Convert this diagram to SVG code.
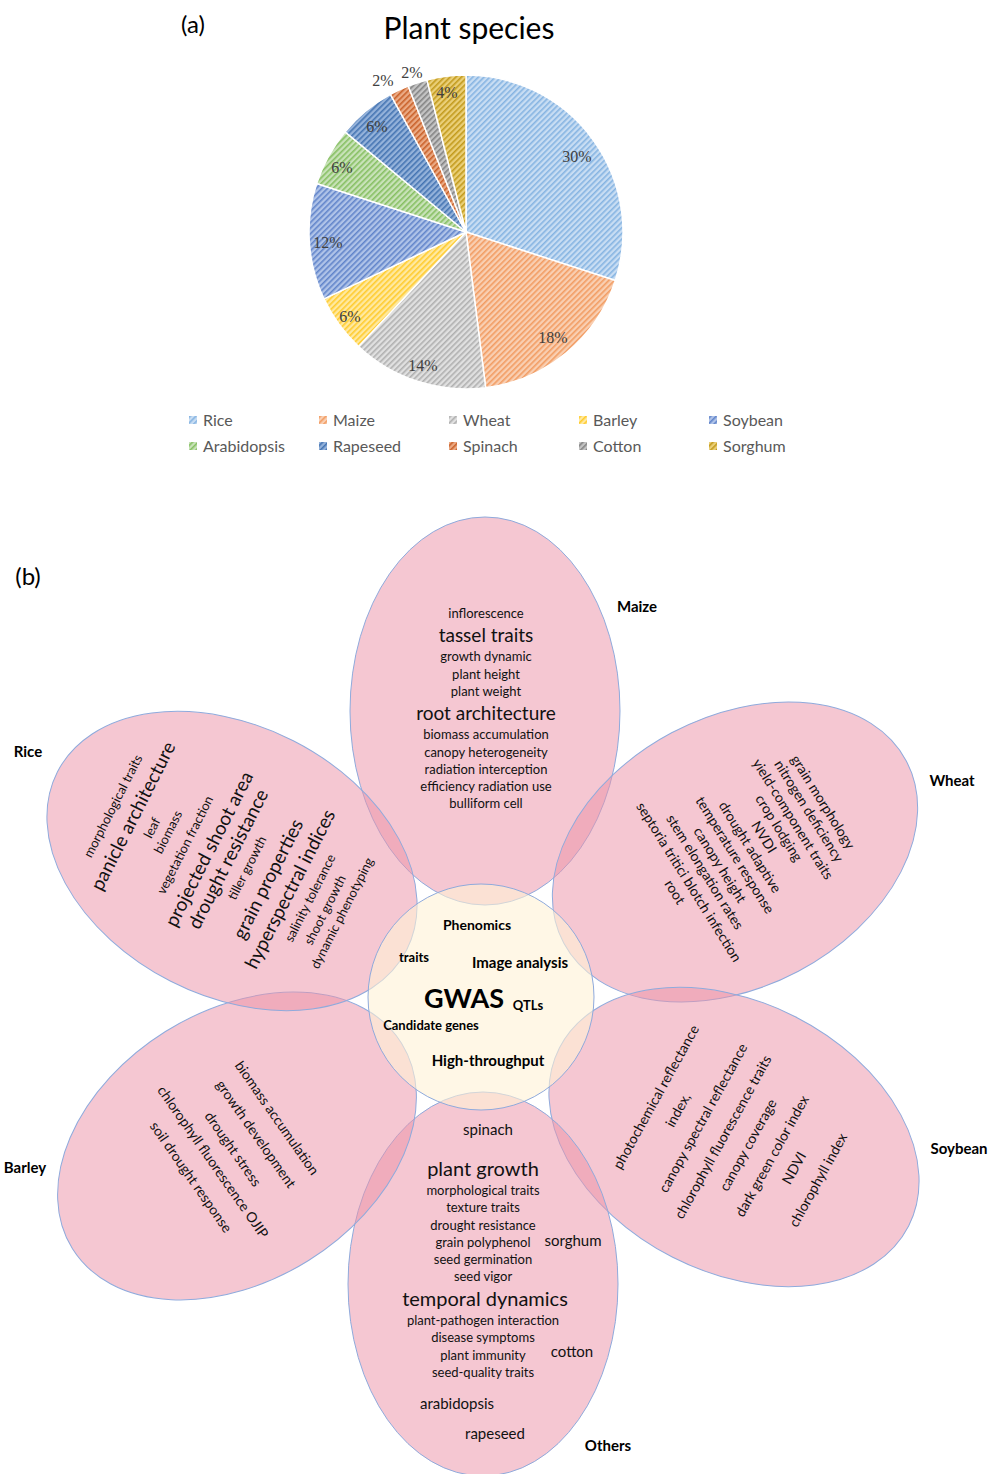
<svg xmlns="http://www.w3.org/2000/svg" width="990" height="1474" viewBox="0 0 990 1474">
<defs>
<style>
.t{font-family:Lato,"Open Sans","Liberation Sans",sans-serif;fill:#111;text-anchor:middle}
.pc{font-family:"Liberation Serif",serif;font-size:16px;fill:#404040;text-anchor:middle}
.lg{font-family:Lato,"Liberation Sans",sans-serif;font-size:16px;fill:#595959}
.b{font-weight:700;fill:#000}
.s12{font-size:12px}.s13{font-size:13px}.s14{font-size:14px}.s15{font-size:15px}.s19{font-size:19px}.s20{font-size:20px}
.petal{fill:#EB94A8;fill-opacity:0.52;stroke:#8FAADC;stroke-width:1}
.core{fill:#FFF1D6;fill-opacity:0.6;stroke:#8FAADC;stroke-width:1}
.sl{stroke:#fff;stroke-width:1.5}
</style>
<pattern id="pRice" width="4" height="4" patternUnits="userSpaceOnUse" patternTransform="rotate(45)"><rect width="4" height="4" fill="#C8DDF3"/><rect width="1.6" height="4" fill="#86B4E2"/></pattern>
<pattern id="pMaize" width="4" height="4" patternUnits="userSpaceOnUse" patternTransform="rotate(45)"><rect width="4" height="4" fill="#F9CFB2"/><rect width="1.6" height="4" fill="#F29C62"/></pattern>
<pattern id="pWheat" width="4" height="4" patternUnits="userSpaceOnUse" patternTransform="rotate(45)"><rect width="4" height="4" fill="#E0E0E0"/><rect width="1.6" height="4" fill="#B0B0B0"/></pattern>
<pattern id="pBarley" width="4" height="4" patternUnits="userSpaceOnUse" patternTransform="rotate(45)"><rect width="4" height="4" fill="#FFE9A0"/><rect width="1.6" height="4" fill="#FFCB2E"/></pattern>
<pattern id="pSoy" width="4" height="4" patternUnits="userSpaceOnUse" patternTransform="rotate(45)"><rect width="4" height="4" fill="#AFC3E8"/><rect width="1.6" height="4" fill="#6285CA"/></pattern>
<pattern id="pArab" width="4" height="4" patternUnits="userSpaceOnUse" patternTransform="rotate(45)"><rect width="4" height="4" fill="#C8E2B8"/><rect width="1.6" height="4" fill="#86BF62"/></pattern>
<pattern id="pRape" width="4" height="4" patternUnits="userSpaceOnUse" patternTransform="rotate(45)"><rect width="4" height="4" fill="#94B2DA"/><rect width="1.6" height="4" fill="#4574B2"/></pattern>
<pattern id="pSpin" width="4" height="4" patternUnits="userSpaceOnUse" patternTransform="rotate(45)"><rect width="4" height="4" fill="#EBAA84"/><rect width="1.6" height="4" fill="#C9612A"/></pattern>
<pattern id="pCot" width="4" height="4" patternUnits="userSpaceOnUse" patternTransform="rotate(45)"><rect width="4" height="4" fill="#C4C4C4"/><rect width="1.6" height="4" fill="#838383"/></pattern>
<pattern id="pSorg" width="4" height="4" patternUnits="userSpaceOnUse" patternTransform="rotate(45)"><rect width="4" height="4" fill="#EACF78"/><rect width="1.6" height="4" fill="#C29A1C"/></pattern>
</defs>
<rect width="990" height="1474" fill="#fff"/>

<!-- (a) pie chart -->
<g id="panel-a">
<text x="193" y="33" class="t" style="font-size:24px;fill:#000">(a)</text>
<text x="469" y="39" class="t" style="font-size:30px;fill:#000">Plant species</text>
<g id="pie">
<path class="sl" fill="url(#pRice)" d="M466,232 L466,75 A157,157 0 0 1 615.32,280.52 Z"/>
<path class="sl" fill="url(#pMaize)" d="M466,232 L615.32,280.52 A157,157 0 0 1 485.68,387.76 Z"/>
<path class="sl" fill="url(#pWheat)" d="M466,232 L485.68,387.76 A157,157 0 0 1 358.53,346.45 Z"/>
<path class="sl" fill="url(#pBarley)" d="M466,232 L358.53,346.45 A157,157 0 0 1 323.94,298.85 Z"/>
<path class="sl" fill="url(#pSoy)" d="M466,232 L323.94,298.85 A157,157 0 0 1 316.68,183.48 Z"/>
<path class="sl" fill="url(#pArab)" d="M466,232 L316.68,183.48 A157,157 0 0 1 345.03,131.93 Z"/>
<path class="sl" fill="url(#pRape)" d="M466,232 L345.03,131.93 A157,157 0 0 1 390.37,94.42 Z"/>
<path class="sl" fill="url(#pSpin)" d="M466,232 L390.37,94.42 A157,157 0 0 1 408.20,86.02 Z"/>
<path class="sl" fill="url(#pCot)" d="M466,232 L408.20,86.02 A157,157 0 0 1 426.96,79.93 Z"/>
<path class="sl" fill="url(#pSorg)" d="M466,232 L426.96,79.93 A157,157 0 0 1 466,75 Z"/>
</g>
<g id="pie-labels">
<text x="577" y="162" class="pc">30%</text>
<text x="553" y="343" class="pc">18%</text>
<text x="423" y="371" class="pc">14%</text>
<text x="350" y="322" class="pc">6%</text>
<text x="328" y="248" class="pc">12%</text>
<text x="342" y="173" class="pc">6%</text>
<text x="377" y="132" class="pc">6%</text>
<text x="383" y="86" class="pc">2%</text>
<text x="412" y="78" class="pc">2%</text>
<text x="447" y="98" class="pc">4%</text>
</g>
<g id="legend">
<rect x="189" y="416" width="8" height="8" fill="url(#pRice)"/><text x="203" y="426" class="lg">Rice</text>
<rect x="319" y="416" width="8" height="8" fill="url(#pMaize)"/><text x="333" y="426" class="lg">Maize</text>
<rect x="449" y="416" width="8" height="8" fill="url(#pWheat)"/><text x="463" y="426" class="lg">Wheat</text>
<rect x="579" y="416" width="8" height="8" fill="url(#pBarley)"/><text x="593" y="426" class="lg">Barley</text>
<rect x="709" y="416" width="8" height="8" fill="url(#pSoy)"/><text x="723" y="426" class="lg">Soybean</text>
<rect x="189" y="442" width="8" height="8" fill="url(#pArab)"/><text x="203" y="452" class="lg">Arabidopsis</text>
<rect x="319" y="442" width="8" height="8" fill="url(#pRape)"/><text x="333" y="452" class="lg">Rapeseed</text>
<rect x="449" y="442" width="8" height="8" fill="url(#pSpin)"/><text x="463" y="452" class="lg">Spinach</text>
<rect x="579" y="442" width="8" height="8" fill="url(#pCot)"/><text x="593" y="452" class="lg">Cotton</text>
<rect x="709" y="442" width="8" height="8" fill="url(#pSorg)"/><text x="723" y="452" class="lg">Sorghum</text>
</g>
</g>

<!-- (b) flower diagram -->
<text x="28" y="585" class="t" style="font-size:24px;fill:#000">(b)</text>
<g id="connectors"></g>
<g id="petal-shapes">
<ellipse id="e-maize" class="petal" cx="0" cy="0" rx="135" ry="194" transform="translate(485,711)"/>
<ellipse id="e-wheat" class="petal" cx="0" cy="0" rx="135" ry="194" transform="translate(735,852) rotate(62)"/>
<ellipse id="e-soy" class="petal" cx="0" cy="0" rx="135" ry="196" transform="translate(734,1137) rotate(-63)"/>
<ellipse id="e-others" class="petal" cx="0" cy="0" rx="135" ry="192" transform="translate(483,1284)"/>
<ellipse id="e-barley" class="petal" cx="0" cy="0" rx="135" ry="194" transform="translate(237,1146) rotate(58)"/>
<ellipse id="e-rice" class="petal" cx="0" cy="0" rx="135" ry="196" transform="translate(232,861) rotate(-63)"/>
</g>
<g id="gwas">
<circle class="core" cx="481" cy="997" r="113"/>
<text x="477" y="930" class="t b s14">Phenomics</text>
<text x="414" y="962" class="t b s13">traits</text>
<text x="520" y="968" class="t b s15">Image analysis</text>
<text x="464" y="1008" class="t b" style="font-size:27px">GWAS</text>
<text x="528" y="1010" class="t b s13">QTLs</text>
<text x="431" y="1030" class="t b s13">Candidate genes</text>
<text x="488" y="1066" class="t b s15">High-throughput</text>
</g>

<g id="maize">
<text x="637" y="612" class="t b s15">Maize</text>
<text x="486" y="617.5" class="t s13">inflorescence</text>
<text x="486" y="641.5" class="t s19">tassel traits</text>
<text x="486" y="660.5" class="t s13">growth dynamic</text>
<text x="486" y="678.5" class="t s13">plant height</text>
<text x="486" y="695.5" class="t s13">plant weight</text>
<text x="486" y="719.5" class="t s19">root architecture</text>
<text x="486" y="738.5" class="t s13">biomass accumulation</text>
<text x="486" y="756.5" class="t s13">canopy heterogeneity</text>
<text x="486" y="773.5" class="t s13">radiation interception</text>
<text x="486" y="790.5" class="t s13">efficiency radiation use</text>
<text x="486" y="807.5" class="t s13">bulliform cell</text>
</g>

<g id="rice">
<text x="28" y="757" class="t b s15">Rice</text>
<g class="t">
<text class="s13" dy="0.35em" transform="translate(113,806) rotate(-63)">morphological traits</text>
<text class="s19" dy="0.35em" transform="translate(133,816) rotate(-63)">panicle architecture</text>
<text class="s13" dy="0.35em" transform="translate(152,828) rotate(-63)">leaf</text>
<text class="s13" dy="0.35em" transform="translate(168,832) rotate(-63)">biomass</text>
<text class="s13" dy="0.35em" transform="translate(185,845) rotate(-63)">vegetation fraction</text>
<text class="s19" dy="0.35em" transform="translate(209,849) rotate(-63)">projected shoot area</text>
<text class="s19" dy="0.35em" transform="translate(228,859) rotate(-63)">drought resistance</text>
<text class="s13" dy="0.35em" transform="translate(247,868) rotate(-63)">tiller growth</text>
<text class="s19" dy="0.35em" transform="translate(268,879) rotate(-63)">grain properties</text>
<text class="s19" dy="0.35em" transform="translate(290,889) rotate(-63)">hyperspectral indices</text>
<text class="s13" dy="0.35em" transform="translate(310,898) rotate(-63)">salinity tolerance</text>
<text class="s13" dy="0.35em" transform="translate(325,910) rotate(-63)">shoot growth</text>
<text class="s13" dy="0.35em" transform="translate(342,913) rotate(-63)">dynamic phenotyping</text>
</g>
</g>

<g id="wheat">
<text x="952" y="786" class="t b s15">Wheat</text>
<g class="t s14">
<text dy="0.35em" transform="translate(823,802) rotate(58)">grain morphology</text>
<text dy="0.35em" transform="translate(809,811) rotate(58)">nitrogen deficiency</text>
<text dy="0.35em" transform="translate(793,819) rotate(58)">yield-component traits</text>
<text dy="0.35em" transform="translate(779,828) rotate(58)">crop lodging</text>
<text dy="0.35em" transform="translate(764,837) rotate(58)">NVDI</text>
<text dy="0.35em" transform="translate(750,847) rotate(58)">drought adaptive</text>
<text dy="0.35em" transform="translate(735,855) rotate(58)">temperature response</text>
<text dy="0.35em" transform="translate(720,865) rotate(58)">canopy height</text>
<text dy="0.35em" transform="translate(705,872) rotate(58)">stem elongation rates</text>
<text dy="0.35em" transform="translate(689,882) rotate(58)">septoria tritici blotch infection</text>
<text dy="0.35em" transform="translate(675,892) rotate(58)">root</text>
</g>
</g>

<g id="soybean">
<text x="959" y="1154" class="t b s15">Soybean</text>
<g class="t s14">
<text dy="0.35em" transform="translate(656,1097) rotate(-61)">photochemical reflectance</text>
<text dy="0.35em" transform="translate(678,1110) rotate(-61)">index,</text>
<text dy="0.35em" transform="translate(703,1118) rotate(-61)">canopy spectral reflectance</text>
<text dy="0.35em" transform="translate(723,1137) rotate(-61)">chlorophyll fluorescence traits</text>
<text dy="0.35em" transform="translate(748,1145) rotate(-61)">canopy coverage</text>
<text dy="0.35em" transform="translate(772,1156) rotate(-61)">dark green color index</text>
<text dy="0.35em" transform="translate(794,1168) rotate(-61)">NDVI</text>
<text dy="0.35em" transform="translate(818,1180) rotate(-61)">chlorophyll index</text>
</g>
</g>

<g id="barley">
<text x="25" y="1173" class="t b s15">Barley</text>
<g class="t s14">
<text dy="0.35em" transform="translate(277,1118) rotate(55)">biomass accumulation</text>
<text dy="0.35em" transform="translate(256,1134) rotate(55)">growth development</text>
<text dy="0.35em" transform="translate(233,1149) rotate(55)">drought stress</text>
<text dy="0.35em" transform="translate(213,1162) rotate(55)">chlorophyll fluorescence  OJIP</text>
<text dy="0.35em" transform="translate(191,1177) rotate(55)">soil drought response</text>
</g>
</g>

<g id="others">
<text x="608" y="1451" class="t b s15">Others</text>
<text x="488" y="1134.5" class="t s15">spinach</text>
<text x="483" y="1176" class="t s20">plant growth</text>
<text x="483" y="1194.5" class="t s13">morphological traits</text>
<text x="483" y="1211.5" class="t s13">texture traits</text>
<text x="483" y="1229.5" class="t s13">drought resistance</text>
<text x="483" y="1247" class="t s13">grain polyphenol</text>
<text x="573" y="1246" class="t s15">sorghum</text>
<text x="483" y="1263.5" class="t s13">seed germination</text>
<text x="483" y="1281" class="t s13">seed vigor</text>
<text x="485" y="1306" class="t s20">temporal dynamics</text>
<text x="483" y="1324.5" class="t s13">plant-pathogen interaction</text>
<text x="483" y="1341.5" class="t s13">disease symptoms</text>
<text x="483" y="1359.5" class="t s13">plant immunity</text>
<text x="572" y="1357" class="t s15">cotton</text>
<text x="483" y="1376.5" class="t s13">seed-quality traits</text>
<text x="457" y="1408.5" class="t s15">arabidopsis</text>
<text x="495" y="1439" class="t s15">rapeseed</text>
</g>
</svg>
